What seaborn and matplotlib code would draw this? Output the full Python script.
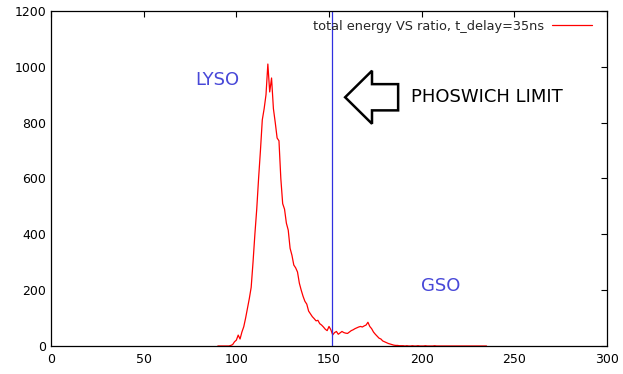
import numpy as np
import pandas as pd
import matplotlib
matplotlib.use("Agg")
import matplotlib.pyplot as plt
from matplotlib.patches import Polygon
import seaborn as sns

ratio = list(range(90, 236))
counts = [0, 0, 0, 0, 0, 0,
          0, 2, 5, 15, 21, 39, 25, 50, 69, 100, 135, 170, 210, 300,
          400, 490, 600, 700, 810, 850, 900, 1010, 910, 960, 850, 800, 745, 735, 600,
          510, 490, 440, 415, 350, 325, 290, 280, 265, 225, 200, 178, 160, 150, 125,
          115, 105, 98, 90, 92, 80, 75, 68, 60, 55, 70, 58, 40, 48, 52,
          42, 47, 52, 48, 46, 45, 50, 55, 58, 62, 65, 68, 70, 68, 72,
          75, 85, 70, 62, 50, 42, 35, 28, 25, 18, 15, 12, 9, 7, 5,
          3, 2, 2, 1, 1, 1, 0, 1, 0, 0, 1, 0, 0, 1, 0,
          0, 0, 1, 0, 0, 0, 0, 1, 0, 0, 0, 0, 0, 0, 0,
          0, 0, 0, 0, 0, 0, 0, 0, 0, 0, 0, 0, 0, 0, 0, 0]
counts = counts[:len(ratio)] + [0] * (len(ratio) - len(counts))
limit_x = 151.5
series_label = "total energy VS ratio, t_delay=35ns"

df = pd.DataFrame({"ratio": ratio, "counts": counts})

sns.set_style("white")
plt.rcParams['font.family'] = ['DejaVu Sans']

fig = plt.figure(figsize=(6.23, 3.74), dpi=100)
ax = fig.add_axes([0.0819, 0.0749, 0.9743 - 0.0819, 0.9706 - 0.0749])

sns.lineplot(data=df, x="ratio", y="counts", color="#ff0000", linewidth=0.9,
             label=series_label, ax=ax)
ax.axvline(limit_x, color="#3030e0", linewidth=0.9)

ax.set_xlim(0, 300)
ax.set_ylim(0, 1200)
ax.set_xticks(range(0, 301, 50))
ax.set_yticks(range(0, 1201, 200))
ax.set_xlabel("")
ax.set_ylabel("")
ax.tick_params(direction="in", length=4.5, width=0.8, labelsize=9,
               top=True, right=True, colors="black")
ax.tick_params(axis="x", pad=5)
for s in ax.spines.values():
    s.set_color("black")
    s.set_linewidth(0.9)

leg = ax.legend(loc="upper right", frameon=False, markerfirst=False,
                fontsize=9.3, handlelength=3.1, borderaxespad=0.6,
                handletextpad=0.6, bbox_to_anchor=(0.997, 1.013))

ax.text(89.6, 952, "LYSO", color="#4848d8", fontsize=13, ha="center", va="center")
ax.text(210.5, 215, "GSO", color="#4848d8", fontsize=13, ha="center", va="center")
ax.text(194.5, 891, "PHOSWICH LIMIT", color="black", fontsize=13, ha="left", va="center")

tip_x, head_x, tail_x, cy = 158.7, 173.2, 187.3, 891
hh, sh = 95, 47
arrow = Polygon([(tip_x, cy), (head_x, cy + hh), (head_x, cy + sh), (tail_x, cy + sh),
                 (tail_x, cy - sh), (head_x, cy - sh), (head_x, cy - hh)],
                closed=True, facecolor="white", edgecolor="black", linewidth=1.8)
ax.add_patch(arrow)

fig.savefig("out.png", dpi=100)
